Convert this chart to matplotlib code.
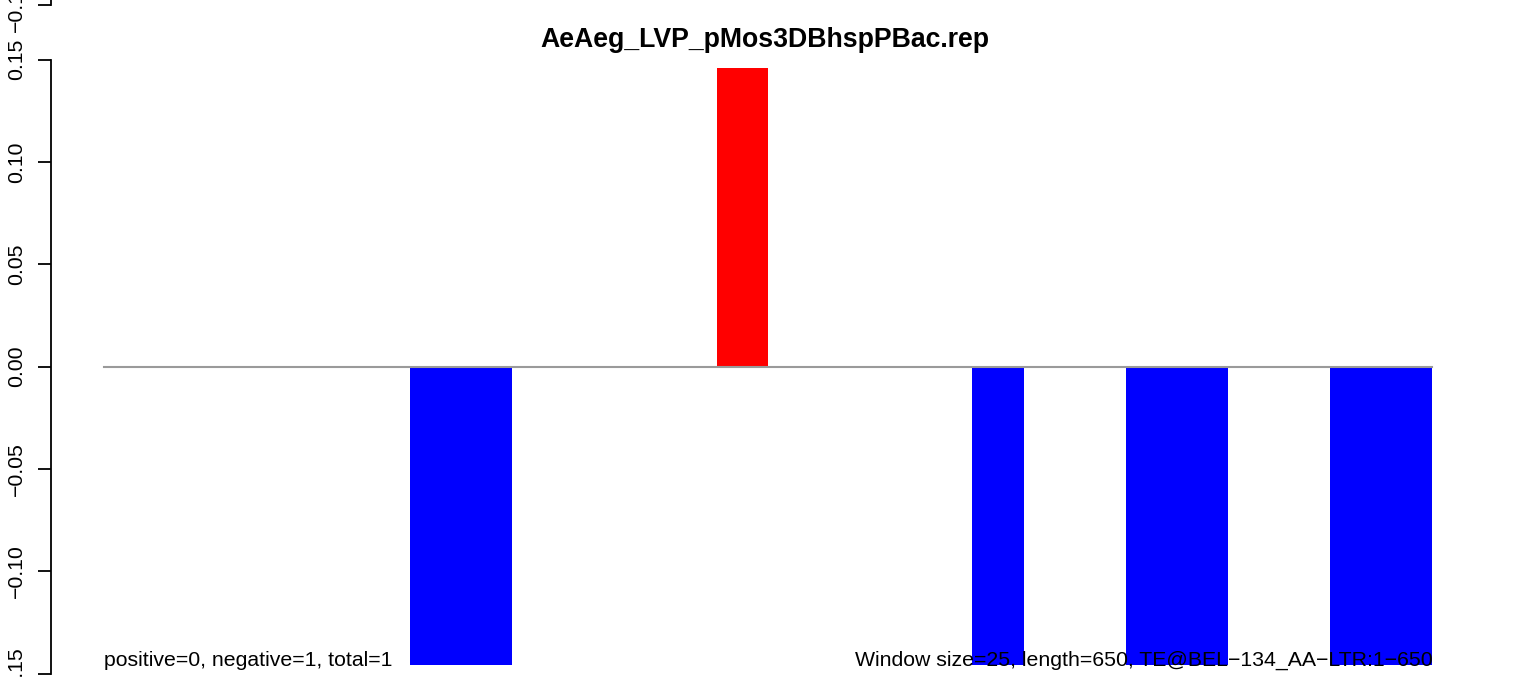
import matplotlib
matplotlib.use("Agg")
import matplotlib.pyplot as plt

# one value per 25 bp window over the 650 bp element (26 windows)
window_index = list(range(26))
window_values = [0, 0, 0, 0, 0, 0, -0.146, -0.146, 0, 0, 0, 0, 0.146,
                 0, 0, 0, 0, -0.146, 0, 0, -0.146, -0.146, 0, 0, -0.146, -0.146]
y_ticks = [-0.15, -0.10, -0.05, 0.00, 0.05, 0.10, 0.15]
y_ticklabels = ["\u22120.15", "\u22120.10", "\u22120.05", "0.00", "0.05", "0.10", "0.15"]

title = "AeAeg_LVP_pMos3DBhspPBac.rep"
left_note = "positive=0, negative=1, total=1"
right_note = "Window size=25, length=650, TE@BEL\u2212134_AA\u2212LTR:1\u2212650"

plt.rcParams['font.family'] = ['Liberation Sans', 'DejaVu Sans']
FS = 15.3

W, H = 1516, 677
fig = plt.figure(figsize=(W / 100, H / 100), dpi=100)

# pixel layout of the plot region (R style: axis line spans tick range)
X0, X1 = 50.5, 1485.5
Y_TOP, Y_BOT = 59.5, 673.5


def style_axis(ax):
    for s in ['top', 'right', 'bottom']:
        ax.spines[s].set_visible(False)
    ax.spines['left'].set_linewidth(1.3)
    ax.set_xlim(-1.04, 27.04)
    ax.set_ylim(-0.15, 0.15)
    ax.set_xticks([])
    ax.set_yticks(y_ticks)
    ax.set_yticklabels(y_ticklabels, rotation=90, va='center')
    ax.tick_params(axis='y', length=9.4, width=1.3, pad=8, labelsize=FS)
    ax.patch.set_visible(False)


ax = fig.add_axes([X0 / W, 1 - Y_BOT / H, (X1 - X0) / W, (Y_BOT - Y_TOP) / H])
style_axis(ax)

colors = ['red' if v > 0 else 'blue' for v in window_values]
ax.bar(window_index, window_values, width=1.0, align='edge', color=colors,
       linewidth=0, zorder=2)
ax.plot([0, 26], [0, 0], color='#9a9a9a', lw=1.5, zorder=3)

ax.text(0, -0.1462, left_note, ha='left', va='baseline', fontsize=FS, zorder=4)
ax.text(26, -0.1462, right_note, ha='right', va='baseline', fontsize=FS, zorder=4)

fig.text(765 / W, 1 - 47 / H, title, ha='center', va='baseline',
         fontsize=19.2, fontweight='bold')

# panel above (cut off by the image edge) - only its bottom end is visible
ax2 = fig.add_axes([X0 / W, 1 - 5 / H, (X1 - X0) / W, (Y_BOT - Y_TOP) / H])
style_axis(ax2)

fig.savefig("out.png", dpi=100)
